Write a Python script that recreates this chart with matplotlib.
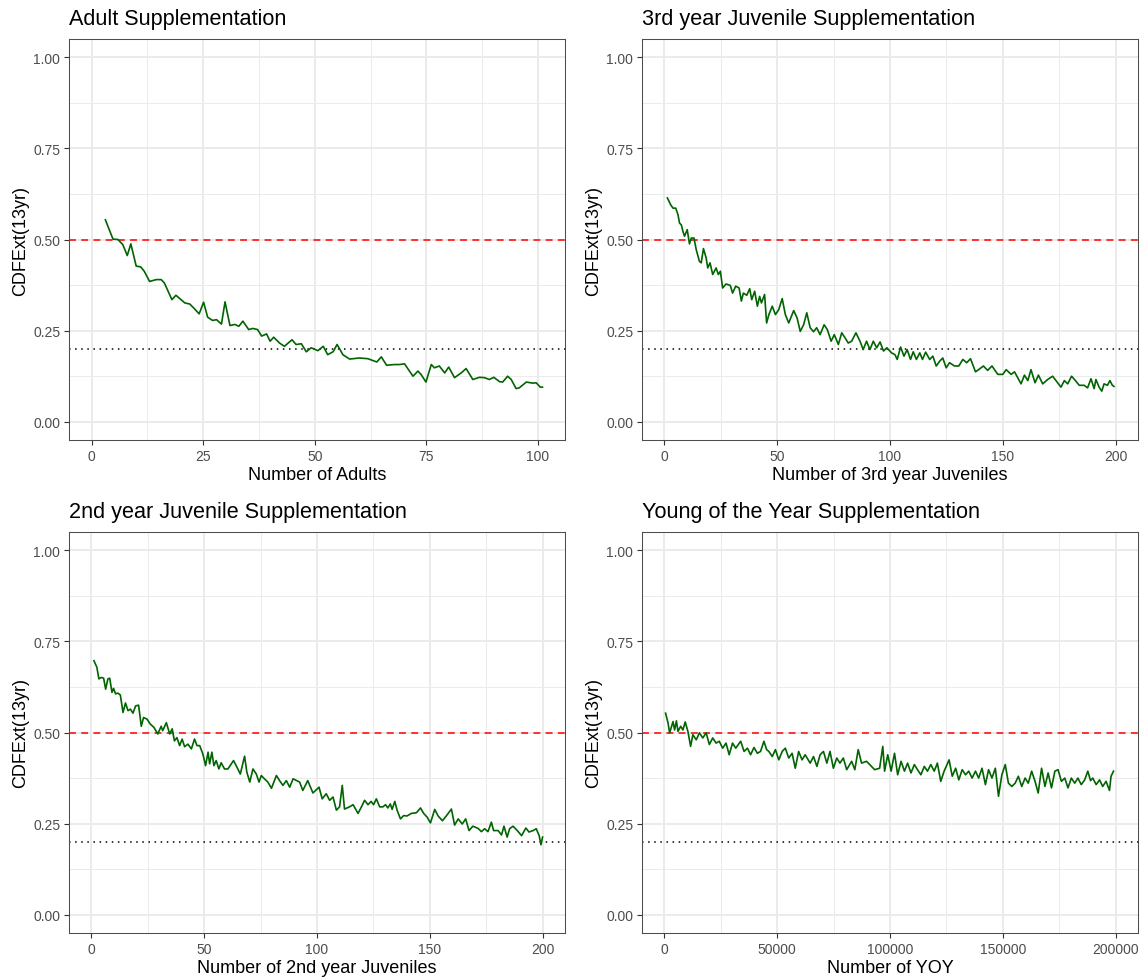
import matplotlib
matplotlib.use("Agg")
import matplotlib.pyplot as plt
from matplotlib.ticker import FixedLocator, FuncFormatter

plt.rcParams['font.family'] = ['Liberation Sans', 'DejaVu Sans']

# ---------------- data ----------------
adult_x = [3.1, 4.8, 5.9, 7.0, 8.0, 8.8, 10.0, 11.0, 11.8, 13.0, 14.5, 15.6, 16.3, 18.0, 18.9,
           20.9, 22.0, 22.9, 24.1, 25.1, 26.0, 27.1, 28.0, 29.1, 29.9, 31.0, 32.1, 33.0, 33.9,
           35.2, 36.1, 37.2, 38.1, 39.2, 40.0, 40.8, 42.1, 43.2, 44.9, 45.8, 47.0, 48.1, 49.2,
           50.7, 51.9, 52.9, 54.1, 55.0, 56.3, 57.8, 60.0, 61.9, 63.9, 64.9, 66.1, 67.8, 69.0,
           70.1, 72.0, 73.1, 73.8, 74.9, 76.1, 76.8, 77.9, 79.1, 80.0, 81.3, 82.8, 83.9, 85.4,
           86.9, 88.0, 89.1, 90.1, 91.4, 92.1, 93.2, 94.0, 95.1, 95.8, 97.4, 98.8, 99.6, 100.5, 101.0]
adult_y = [0.554, 0.501, 0.500, 0.486, 0.456, 0.488, 0.427, 0.425, 0.413, 0.385, 0.390, 0.390, 0.381,
           0.335, 0.347, 0.326, 0.323, 0.312, 0.296, 0.328, 0.287, 0.278, 0.280, 0.268, 0.329,
           0.264, 0.267, 0.262, 0.276, 0.253, 0.256, 0.253, 0.235, 0.241, 0.221, 0.232, 0.216,
           0.207, 0.225, 0.212, 0.214, 0.192, 0.203, 0.195, 0.207, 0.184, 0.192, 0.212, 0.184,
           0.172, 0.175, 0.173, 0.164, 0.178, 0.155, 0.157, 0.157, 0.159, 0.125, 0.139, 0.130,
           0.109, 0.157, 0.148, 0.153, 0.134, 0.150, 0.121, 0.134, 0.146, 0.116, 0.122, 0.121,
           0.116, 0.122, 0.110, 0.109, 0.125, 0.116, 0.091, 0.093, 0.109, 0.106, 0.107, 0.095, 0.095]

juv3_x = [1.3, 2.8, 3.8, 5.0, 6.0, 6.7, 7.5, 8.2, 8.9, 10.1, 11.1, 11.9, 13.1, 14.1, 15.5, 16.3,
          17.3, 18.5, 19.2, 20.2, 21.4, 22.9, 23.9, 24.8, 25.8, 27.3, 29.2, 30.2, 31.6, 33.1,
          34.1, 35.0, 36.5, 37.8, 38.7, 40.0, 41.2, 42.2, 43.0, 44.4, 45.3, 46.3, 47.8, 49.2,
          50.7, 52.2, 53.6, 55.1, 57.3, 58.8, 60.2, 61.7, 63.1, 64.6, 66.1, 67.5, 69.0, 70.8,
          72.2, 73.9, 75.3, 77.1, 78.6, 80.1, 81.5, 83.0, 84.9, 86.7, 88.1, 89.6, 91.1, 92.6,
          94.1, 95.6, 97.1, 98.6, 100.7, 102.2, 103.2, 104.7, 106.2, 107.6, 109.1, 110.3, 111.7,
          113.2, 114.4, 115.8, 117.6, 119.0, 120.5, 122.0, 123.4, 124.9, 126.4, 128.6, 130.5,
          132.3, 134.0, 135.7, 137.9, 139.3, 141.4, 143.3, 145.2, 147.8, 150.0, 151.5, 153.7,
          155.2, 156.6, 158.1, 159.6, 161.1, 162.5, 164.3, 165.8, 167.7, 169.9, 172.1, 174.3,
          175.8, 177.3, 178.8, 180.5, 182.2, 183.9, 186.1, 187.6, 189.1, 190.5, 191.3, 192.7,
          193.9, 194.9, 196.4, 197.5, 198.6, 199.3]
juv3_y = [0.614, 0.595, 0.586, 0.586, 0.568, 0.545, 0.540, 0.522, 0.509, 0.527, 0.488, 0.504, 0.504,
          0.472, 0.440, 0.436, 0.475, 0.449, 0.422, 0.436, 0.404, 0.422, 0.404, 0.413, 0.367,
          0.378, 0.374, 0.353, 0.372, 0.367, 0.331, 0.353, 0.347, 0.365, 0.335, 0.358, 0.317,
          0.344, 0.326, 0.349, 0.271, 0.294, 0.317, 0.294, 0.308, 0.338, 0.294, 0.271, 0.305,
          0.285, 0.248, 0.266, 0.299, 0.258, 0.247, 0.258, 0.239, 0.266, 0.253, 0.221, 0.239,
          0.212, 0.244, 0.230, 0.216, 0.221, 0.244, 0.221, 0.198, 0.221, 0.198, 0.221, 0.203,
          0.219, 0.194, 0.203, 0.189, 0.184, 0.171, 0.205, 0.180, 0.198, 0.171, 0.192, 0.171,
          0.189, 0.171, 0.191, 0.171, 0.180, 0.153, 0.166, 0.175, 0.148, 0.162, 0.153, 0.153,
          0.171, 0.162, 0.173, 0.137, 0.143, 0.153, 0.141, 0.153, 0.130, 0.130, 0.143, 0.130,
          0.137, 0.121, 0.104, 0.128, 0.113, 0.143, 0.107, 0.128, 0.104, 0.116, 0.125, 0.107,
          0.095, 0.113, 0.104, 0.125, 0.113, 0.100, 0.100, 0.093, 0.118, 0.091, 0.116, 0.095,
          0.084, 0.104, 0.100, 0.113, 0.100, 0.097]

juv2_x = [1.1, 2.4, 3.3, 4.3, 5.4, 6.3, 7.3, 8.1, 9.1, 9.8, 10.7, 11.7, 12.8, 14.0, 15.1, 16.2,
          17.3, 18.4, 19.6, 20.9, 22.1, 23.1, 24.6, 26.1, 27.7, 29.4, 30.9, 31.6, 33.2, 34.7,
          35.8, 36.8, 37.9, 39.1, 40.2, 41.3, 42.8, 44.3, 45.7, 46.8, 48.0, 49.4, 50.6, 51.7,
          52.4, 53.4, 54.3, 55.3, 56.5, 57.5, 59.0, 60.5, 62.0, 63.0, 64.5, 66.0, 67.1, 67.9,
          68.9, 70.2, 71.6, 73.1, 74.3, 75.3, 76.7, 78.2, 79.8, 82.0, 83.4, 84.9, 86.4, 87.9,
          89.4, 92.3, 93.7, 95.9, 98.2, 100.9, 102.3, 104.1, 105.6, 107.1, 108.6, 110.0, 111.2,
          112.2, 114.4, 116.0, 118.2, 119.7, 121.1, 122.6, 124.0, 125.1, 126.3, 127.8, 129.2,
          130.4, 131.4, 132.5, 133.3, 134.5, 135.5, 137.0, 138.4, 139.9, 141.8, 144.1, 145.9,
          147.3, 148.8, 150.3, 152.2, 153.7, 155.6, 157.3, 159.6, 161.0, 162.6, 164.4, 165.9,
          167.4, 169.1, 171.4, 172.9, 174.3, 175.8, 177.3, 178.3, 180.3, 181.8, 182.9, 184.3,
          185.4, 186.9, 188.8, 190.7, 192.6, 194.0, 195.8, 197.2, 198.5, 199.3, 200.0]
juv2_y = [0.697, 0.679, 0.647, 0.651, 0.649, 0.619, 0.647, 0.649, 0.610, 0.621, 0.606, 0.608, 0.603,
          0.555, 0.581, 0.560, 0.564, 0.553, 0.573, 0.575, 0.517, 0.541, 0.537, 0.523, 0.514,
          0.496, 0.517, 0.505, 0.527, 0.496, 0.510, 0.477, 0.486, 0.464, 0.482, 0.461, 0.468,
          0.455, 0.482, 0.464, 0.464, 0.441, 0.409, 0.446, 0.414, 0.446, 0.409, 0.423, 0.400,
          0.417, 0.400, 0.400, 0.414, 0.423, 0.405, 0.386, 0.414, 0.435, 0.391, 0.364, 0.400,
          0.386, 0.364, 0.382, 0.373, 0.364, 0.347, 0.382, 0.368, 0.355, 0.368, 0.350, 0.373,
          0.364, 0.341, 0.368, 0.334, 0.350, 0.318, 0.332, 0.314, 0.323, 0.287, 0.296, 0.355,
          0.290, 0.296, 0.302, 0.278, 0.296, 0.314, 0.302, 0.311, 0.302, 0.318, 0.296, 0.296,
          0.302, 0.293, 0.304, 0.289, 0.311, 0.287, 0.263, 0.272, 0.271, 0.278, 0.280, 0.293,
          0.278, 0.268, 0.252, 0.289, 0.271, 0.258, 0.271, 0.290, 0.246, 0.263, 0.249, 0.263,
          0.231, 0.243, 0.237, 0.228, 0.236, 0.228, 0.254, 0.231, 0.231, 0.219, 0.243, 0.213,
          0.236, 0.243, 0.231, 0.217, 0.238, 0.227, 0.231, 0.236, 0.217, 0.192, 0.213]

yoy_x = [500, 1600, 2300, 3800, 4500, 5300, 6000, 7200, 8200, 9200, 10400, 11600, 12600, 14100,
         15500, 17000, 18500, 19900, 21400, 22900, 24300, 25800, 27300, 28700, 30200, 31600,
         33800, 35300, 36800, 38200, 39700, 41200, 42600, 44100, 45300, 46300, 47800, 49200,
         50700, 52200, 53600, 55100, 56600, 58000, 59500, 61000, 62400, 64600, 66100, 67600,
         69000, 70500, 72000, 73400, 74900, 76400, 77800, 79300, 80800, 83000, 84400, 85900,
         87400, 89600, 91800, 93200, 95400, 96800, 97600, 99000, 100500, 102000, 103400, 104900,
         106400, 107800, 109300, 110800, 112200, 113700, 115200, 116600, 118100, 119600, 121000,
         122500, 124000, 126200, 127600, 129100, 130500, 132000, 133500, 134900, 136400, 137900,
         139300, 140800, 142300, 143700, 145200, 146700, 148100, 149600, 151100, 152500, 154000,
         155500, 156900, 158400, 159900, 161300, 162800, 164300, 165700, 167200, 168700, 170100,
         171600, 173100, 174500, 176000, 177500, 178900, 180400, 181900, 183300, 184800, 186300,
         187700, 188900, 189900, 191400, 192900, 194300, 195800, 197300, 198000, 199100]
yoy_y = [0.553, 0.526, 0.499, 0.530, 0.507, 0.532, 0.503, 0.517, 0.507, 0.529, 0.503, 0.462, 0.494,
         0.480, 0.499, 0.485, 0.499, 0.467, 0.485, 0.471, 0.476, 0.457, 0.471, 0.439, 0.471,
         0.457, 0.476, 0.448, 0.457, 0.439, 0.459, 0.443, 0.448, 0.476, 0.453, 0.448, 0.434,
         0.453, 0.425, 0.448, 0.457, 0.430, 0.443, 0.402, 0.448, 0.425, 0.439, 0.416, 0.434,
         0.407, 0.439, 0.448, 0.416, 0.448, 0.402, 0.430, 0.416, 0.430, 0.398, 0.421, 0.398,
         0.453, 0.416, 0.421, 0.407, 0.398, 0.402, 0.462, 0.394, 0.439, 0.394, 0.443, 0.384,
         0.421, 0.394, 0.416, 0.389, 0.412, 0.398, 0.384, 0.407, 0.394, 0.412, 0.394, 0.416,
         0.366, 0.394, 0.425, 0.380, 0.402, 0.370, 0.398, 0.384, 0.394, 0.375, 0.394, 0.375,
         0.402, 0.357, 0.398, 0.375, 0.402, 0.325, 0.384, 0.412, 0.361, 0.352, 0.361, 0.380,
         0.352, 0.375, 0.361, 0.394, 0.366, 0.334, 0.402, 0.352, 0.389, 0.348, 0.394, 0.398,
         0.366, 0.375, 0.348, 0.375, 0.361, 0.375, 0.357, 0.370, 0.394, 0.368, 0.375, 0.357,
         0.370, 0.352, 0.366, 0.341, 0.380, 0.394]

titles = ["Adult Supplementation", "3rd year Juvenile Supplementation",
          "2nd year Juvenile Supplementation", "Young of the Year Supplementation"]
xlabels = ["Number of Adults", "Number of 3rd year Juveniles",
           "Number of 2nd year Juveniles", "Number of YOY"]
ylabel = "CDFExt(13yr)"
y_ticks = [0.0, 0.25, 0.5, 0.75, 1.0]
x_ticks = [[0, 25, 50, 75, 100], [0, 50, 100, 150, 200],
           [0, 50, 100, 150, 200], [0, 50000, 100000, 150000, 200000]]
x_limits = [(-5.05, 106.05), (-9.95, 209.95), (-9.95, 209.95), (-9950, 209950)]
threshold_red = 0.5
threshold_black = 0.2

series = [(adult_x, adult_y), (juv3_x, juv3_y), (juv2_x, juv2_y), (yoy_x, yoy_y)]

# ---------------- figure ----------------
W, H = 1148, 979
fig = plt.figure(figsize=(W / 100, H / 100), dpi=100)
fig.patch.set_facecolor('white')

pw, ph = 496 / W, 401 / H
positions = [(69 / W, 1 - 441 / H), (642 / W, 1 - 441 / H),
             (69 / W, 1 - 934 / H), (642 / W, 1 - 934 / H)]

grid_col = '#EBEBEB'
dark = '#333333'

for i, (px, py) in enumerate(positions):
    ax = fig.add_axes([px, py, pw, ph])
    xs, ys = series[i]
    ax.set_xlim(*x_limits[i])
    ax.set_ylim(-0.05, 1.05)

    xt = x_ticks[i]
    step = xt[1] - xt[0]
    ax.xaxis.set_major_locator(FixedLocator(xt))
    ax.xaxis.set_minor_locator(FixedLocator([t + step / 2 for t in xt[:-1]]))
    ax.yaxis.set_major_locator(FixedLocator(y_ticks))
    ax.yaxis.set_minor_locator(FixedLocator([t + 0.125 for t in y_ticks[:-1]]))
    ax.yaxis.set_major_formatter(FuncFormatter(lambda v, p: f"{v:.2f}"))
    ax.xaxis.set_major_formatter(FuncFormatter(lambda v, p: f"{int(round(v))}"))

    ax.grid(which='major', color=grid_col, linewidth=1.4, zorder=0)
    ax.grid(which='minor', color=grid_col, linewidth=0.7, zorder=0)
    ax.set_axisbelow(True)

    ax.tick_params(which='major', direction='out', length=3.8, width=0.8, color=dark,
                   labelsize=10, labelcolor='#4D4D4D', pad=2.5)
    ax.tick_params(which='minor', length=0)
    for s in ax.spines.values():
        s.set_color('#4D4D4D')
        s.set_linewidth(0.75)

    ax.axhline(threshold_red, color='#FF0000', linewidth=1.1, linestyle=(0, (4.5, 3.5)), zorder=2)
    ax.axhline(threshold_black, color='black', linewidth=1.1, linestyle=(0, (1, 3)), zorder=2)
    ax.plot(xs, ys, color='#006400', linewidth=1.2, zorder=3)

    ax.set_title(titles[i], loc='left', fontsize=15.6, color='black', pad=10.5)
    ax.set_xlabel(xlabels[i], fontsize=13, color='black', labelpad=2)
    ax.set_ylabel(ylabel, fontsize=13, color='black', labelpad=3)

fig.savefig('out.png', dpi=100, facecolor='white')
